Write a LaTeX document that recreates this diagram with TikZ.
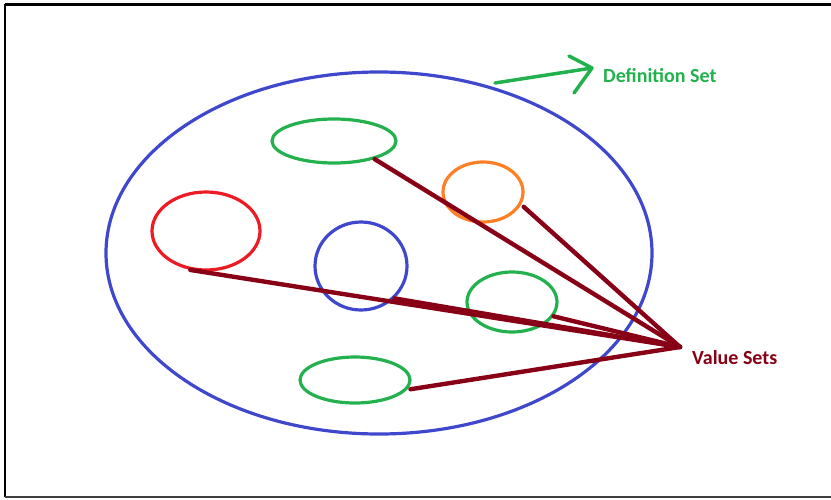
\documentclass[tikz,border=0pt]{standalone}
\usepackage{fontspec}
\setmainfont{Carlito}
\usetikzlibrary{shapes.geometric}
\definecolor{setblue}{HTML}{3F48CC}
\definecolor{setgreen}{HTML}{22B14C}
\definecolor{setred}{HTML}{ED1C24}
\definecolor{setorange}{HTML}{FF7F27}
\definecolor{setmaroon}{HTML}{880015}
\tikzset{
  setring/.style={ellipse, draw=#1, line width=3.2pt, inner sep=0pt},
  link/.style={draw=setmaroon, line width=4.4pt, line cap=round},
  caption/.style={font=\bfseries\fontsize{20}{24}\selectfont, anchor=west, inner sep=0pt},
}
\begin{document}
\begin{tikzpicture}[x=1pt, y=-1pt]
\useasboundingbox (0,0) rectangle (831,499);
% window frame
\draw[black, line width=3pt] (5,4) -- (831,4);
\draw[black, line width=2pt] (5,4) -- (5,497);
\draw[black!75, line width=2pt] (5,497) -- (831,497);

% outer definition set
\node[setring=setblue, minimum width=546pt, minimum height=362pt] (def) at (379,253) {};

% inner value sets
\node[setring=setgreen,  minimum width=124pt, minimum height=44pt] (gtop) at (334,141) {};
\node[setring=setorange, minimum width=80pt,  minimum height=60pt] (orng) at (483,192) {};
\node[setring=setred,    minimum width=108pt, minimum height=78pt] (red)  at (206,231) {};
\node[setring=setblue,   minimum width=92pt,  minimum height=88pt] (bcir) at (361,266) {};
\node[setring=setgreen,  minimum width=90pt,  minimum height=60pt] (gmid) at (512,302) {};
\node[setring=setgreen,  minimum width=110pt, minimum height=46pt] (gbot) at (355,380) {};

% labels
\coordinate (vs) at (680,347);
\node[caption, text=setmaroon] (vslabel) at (692,358) {Value Sets};
\node[caption, text=setgreen] (dslabel) at (603,76) {Definition Set};

% connectors to the value sets label
\draw[link] (gtop.-24) -- (vs);
\draw[link] ([xshift=4pt]orng.-22) -- (vs);
\draw[link] (red.-112) -- (vs);
\draw[link] (bcir.-44) -- (vs);
\draw[link] (gmid.-19) -- (vs);
\draw[link] ([xshift=3pt]gbot.-10) -- (vs);

% hand-drawn arrow towards the definition set label
\coordinate (atail) at (495,83);
\coordinate (ahead) at (592,68);
\draw[setgreen, line width=3.5pt, line cap=round, line join=round]
  (atail) -- (ahead)
  (569,56) -- (ahead) -- (574,93);
\end{tikzpicture}
\end{document}
